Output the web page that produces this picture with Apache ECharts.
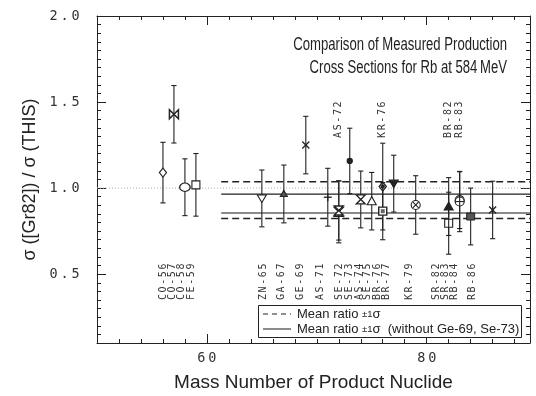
<!DOCTYPE html>
<html>
<head>
<meta charset="utf-8">
<script src="https://cdn.jsdelivr.net/npm/echarts@6/dist/echarts.min.js"></script>
<style>
  html, body { margin: 0; padding: 0; background: #fff; }
  #chart { width: 536px; height: 396px; }
</style>
</head>
<body>
<div id="chart"></div>
<script>
// Product nuclides, their mass numbers and the ratio sigma[Gr82] / sigma[this work] with 1-sigma errors
const nuclides    = ['CO-56','CO-57','CO-58','FE-59','ZN-65','GA-67','GE-69','AS-71','AS-72','SE-72','SE-73','AS-74','SE-75','KR-76','BR-76','BR-77','KR-79','SR-82','BR-82','RB-83','SR-83','RB-84','RB-86'];
const massNumbers = [56, 57, 58, 59, 65, 67, 69, 71, 72, 72, 73, 74, 75, 76, 76, 77, 79, 82, 82, 83, 83, 84, 86];
const ratios      = [1.090, 1.429, 1.005, 1.019, 0.940, 0.966, 1.250, 0.947, 0.862, 0.870, 1.158, 0.934, 0.924, 1.009, 0.866, 1.026, 0.902, 0.796, 0.893, 0.930, 0.922, 0.835, 0.873];
const errors      = [0.176, 0.167, 0.165, 0.182, 0.165, 0.168, 0.167, 0.168, 0.180, 0.172, 0.190, 0.165, 0.167, 0.252, 0.166, 0.165, 0.170, 0.180, 0.168, 0.165, 0.175, 0.165, 0.167];

// Nuclides whose name is written above the data instead of in the bottom row
const upperLabelled = ['AS-72', 'KR-76', 'BR-82', 'RB-83'];

// Mean ratio and spread: all nuclides, and without Ge-69 and Se-73
const meanAll = 0.930, sigmaAll = 0.107;
const meanSub = 0.910, sigmaSub = 0.055;

// Axis ranges and labelled ticks
const xRange = [50, 89.4];
const yRange = [0.1, 2.0];
const xTickLabels = [60, 80];
const yTickLabels = [0.5, 1.0, 1.5, 2.0];

// ---- layout / styling ----
const ink = '#222';
const meanLineStart = 61.3;       // mass number where the mean bands begin
const upperLabelRow = 1.287;      // ratio level of the label row above the data
const lowerLabelRow = 0.566;      // ratio level of the label row below the data

// Where each bottom-row name sits along the mass axis (names are packed tighter than the points)
const labelSlot = {
  'CO-56': 56.0, 'CO-57': 56.85, 'CO-58': 57.7, 'FE-59': 58.55,
  'ZN-65': 65.15, 'GA-67': 66.8, 'GE-69': 68.55, 'AS-71': 70.35,
  'SE-72': 72.1, 'SE-73': 73.0, 'AS-74': 73.85, 'SE-75': 74.65, 'BR-76': 75.5, 'BR-77': 76.35,
  'KR-79': 78.45, 'SR-82': 80.9, 'SR-83': 81.7, 'RB-84': 82.55, 'RB-86': 84.2
};

// Plot symbol of each nuclide
const markerOf = {
  'CO-56': 'diamond', 'CO-57': 'bowtie', 'CO-58': 'circle', 'FE-59': 'square',
  'ZN-65': 'triDown', 'GA-67': 'triUpSmall', 'GE-69': 'cross', 'AS-71': 'plus',
  'AS-72': 'hourglass', 'SE-72': 'hourglass', 'SE-73': 'dot', 'AS-74': 'hourglass',
  'SE-75': 'triUp', 'KR-76': 'diamondDot', 'BR-76': 'squareDot', 'BR-77': 'triDownFilled',
  'KR-79': 'circleCross', 'SR-82': 'square', 'BR-82': 'triUpFilled', 'RB-83': 'circlePlus',
  'SR-83': 'circlePlus', 'RB-84': 'squareFilled', 'RB-86': 'asterisk'
};

function seg(x1, y1, x2, y2, w) {
  return { type: 'line', shape: { x1, y1, x2, y2 }, style: { stroke: ink, lineWidth: w || 1.1 } };
}
function poly(points, fill, w) {
  return { type: 'polygon', shape: { points }, style: { fill: fill || '#fff', stroke: ink, lineWidth: w || 1.1 } };
}
function ring(cx, cy, r, fill) {
  return { type: 'circle', shape: { cx, cy, r }, style: { fill: fill || '#fff', stroke: ink, lineWidth: 1.1 } };
}

function markerElements(kind, x, y) {
  const R = 4.5;
  switch (kind) {
    case 'diamond':
      return [poly([[x, y - R], [x + R * 0.8, y], [x, y + R], [x - R * 0.8, y]])];
    case 'diamondDot':
      return [poly([[x, y - R], [x + R * 0.8, y], [x, y + R], [x - R * 0.8, y]], '#fff', 1.3), ring(x, y, 1.6, ink)];
    case 'bowtie':
      return [poly([[x - R, y - R], [x, y], [x - R, y + R]], '#fff', 1.5),
              poly([[x + R, y - R], [x, y], [x + R, y + R]], '#fff', 1.5)];
    case 'hourglass':
      return [poly([[x - R, y - R], [x + R, y - R], [x, y]], '#fff', 1.3),
              poly([[x - R, y + R], [x + R, y + R], [x, y]], '#fff', 1.3)];
    case 'circle':
      return [{ type: 'circle', shape: { cx: x, cy: y, r: 4.2 }, scaleX: 1.25, originX: x, originY: y,
                style: { fill: '#fff', stroke: ink, lineWidth: 1.1 } }];
    case 'circleCross':
      return [ring(x, y, R), seg(x - 3, y - 3, x + 3, y + 3), seg(x - 3, y + 3, x + 3, y - 3)];
    case 'circlePlus':
      return [ring(x, y, R), seg(x - R, y, x + R, y), seg(x, y - R, x, y + R)];
    case 'dot':
      return [ring(x, y, 2.6, ink)];
    case 'square':
      return [{ type: 'rect', shape: { x: x - 4, y: y - 4, width: 8, height: 8 }, style: { fill: '#fff', stroke: ink, lineWidth: 1.1 } }];
    case 'squareDot':
      return [{ type: 'rect', shape: { x: x - 4, y: y - 4, width: 8, height: 8 }, style: { fill: '#fff', stroke: ink, lineWidth: 1.4 } },
              { type: 'rect', shape: { x: x - 2, y: y - 2, width: 4, height: 4 }, style: { fill: '#666' } }];
    case 'squareFilled':
      return [{ type: 'rect', shape: { x: x - 4, y: y - 3.5, width: 8, height: 7 }, style: { fill: '#555', stroke: ink, lineWidth: 1 } }];
    case 'triDown':
      return [poly([[x - R, y - 3.5], [x + R, y - 3.5], [x, y + 4]])];
    case 'triDownFilled':
      return [poly([[x - R, y - 3.5], [x + R, y - 3.5], [x, y + 4]], ink)];
    case 'triUp':
      return [poly([[x - R, y + 3.5], [x + R, y + 3.5], [x, y - 4.5]])];
    case 'triUpSmall':
      return [poly([[x - 3.5, y + 2.5], [x + 3.5, y + 2.5], [x, y - 3.5]], '#555')];
    case 'triUpFilled':
      return [poly([[x - R, y + 3.5], [x + R, y + 3.5], [x, y - 4.5]], ink)];
    case 'cross':
      return [seg(x - 3.5, y - 3.5, x + 3.5, y + 3.5, 1.3), seg(x - 3.5, y + 3.5, x + 3.5, y - 3.5, 1.3)];
    case 'plus':
      return [seg(x - 4, y, x + 4, y, 1.3), seg(x, y - 4, x, y + 4, 1.3)];
    case 'asterisk':
      return [seg(x - 3.5, y - 3.5, x + 3.5, y + 3.5, 1.3), seg(x - 3.5, y + 3.5, x + 3.5, y - 3.5, 1.3), seg(x, y - 4, x, y + 4, 1.3)];
  }
  return [];
}

// Data points with error bars
function renderPoint(params, api) {
  const i = api.value(3);
  const m = api.value(0), r = api.value(1), e = api.value(2);
  const p = api.coord([m, r]);
  const hi = api.coord([m, r + e]);
  const lo = api.coord([m, r - e]);
  const cap = 2.6;
  const children = [
    seg(p[0], hi[1], p[0], lo[1], 1.1),
    seg(p[0] - cap, hi[1], p[0] + cap, hi[1], 1.1),
    seg(p[0] - cap, lo[1], p[0] + cap, lo[1], 1.1)
  ].concat(markerElements(markerOf[nuclides[i]], p[0], p[1]));
  return { type: 'group', children };
}

// Letter-spaced text built from fixed-width rich-text cells
function spaced(s) {
  return s.split('').map(c => '{c|' + c + '}').join('');
}
const nameRich = { c: { width: 7.6, align: 'center', fontFamily: 'DejaVu Sans Mono', fontSize: 10, fill: '#333', color: '#333' } };
const tickRich = { c: { width: 11, align: 'center', fontFamily: 'DejaVu Sans Mono', fontSize: 13.5, color: '#333' } };

// Nuclide names, written vertically
function renderName(params, api) {
  const i = api.value(0);
  const name = nuclides[i];
  const upper = upperLabelled.indexOf(name) >= 0;
  const pos = upper ? api.coord([massNumbers[i], upperLabelRow])
                    : api.coord([labelSlot[name], lowerLabelRow]);
  return {
    type: 'text',
    x: pos[0], y: pos[1],
    rotation: Math.PI / 2,
    style: {
      text: spaced(name),
      rich: nameRich,
      fill: '#333',
      align: upper ? 'left' : 'right',
      verticalAlign: 'middle'
    }
  };
}

function frameAxis(extra) {
  return Object.assign({
    type: 'value',
    axisLine: { show: true, onZero: false, lineStyle: { color: ink, width: 1 } },
    axisTick: { show: true, inside: true, length: 4, lineStyle: { color: ink, width: 1 } },
    axisLabel: { show: false },
    splitLine: { show: false }
  }, extra);
}
function majorAxis(extra, ticks) {
  return Object.assign({
    type: 'value',
    axisLine: { show: false, onZero: false },
    axisTick: { show: true, inside: true, length: 9, customValues: ticks, lineStyle: { color: ink, width: 1 } },
    axisLabel: { show: false },
    splitLine: { show: false }
  }, extra);
}

const xb = { min: xRange[0], max: xRange[1] };
const yb = { min: yRange[0], max: yRange[1] };

const chart = echarts.init(document.getElementById('chart'), null, { renderer: 'canvas' });

function meanLine(level, lineStyle) {
  return {
    type: 'line', xAxisIndex: 0, yAxisIndex: 0, silent: true, symbol: 'none', z: 1,
    data: [[meanLineStart, level], [xRange[1], level]],
    lineStyle
  };
}

const legendRich = {
  n: { fontFamily: 'Liberation Sans', fontSize: 13, fill: '#222' },
  s: { fontFamily: 'Liberation Sans', fontSize: 9.5, fill: '#222' }
};
// Narrow title lettering: regular sans squeezed horizontally about the right edge
const titleFont = { fontFamily: 'Liberation Sans', fontSize: 17.5, fill: '#222' };

chart.setOption({
  animation: false,
  backgroundColor: '#fff',
  grid: { left: 97, right: 6, top: 16, bottom: 53, outerBoundsMode: 'none' },
  xAxis: [
    frameAxis(Object.assign({ position: 'bottom', interval: 2 }, xb)),
    majorAxis(Object.assign({
      position: 'bottom',
      axisLabel: {
        show: true, customValues: xTickLabels, margin: 8,
        formatter: v => spaced(String(v)), rich: tickRich
      },
      name: 'Mass Number of Product Nuclide',
      nameLocation: 'middle', nameGap: 30,
      nameTextStyle: { fontFamily: 'Liberation Sans', fontSize: 19, color: '#222' }
    }, xb), xTickLabels),
    frameAxis(Object.assign({ position: 'top', interval: 2 }, xb)),
    majorAxis(Object.assign({ position: 'top' }, xb), xTickLabels)
  ],
  yAxis: [
    frameAxis(Object.assign({ position: 'left', interval: 0.05 }, yb)),
    majorAxis(Object.assign({
      position: 'left',
      axisLabel: {
        show: true, customValues: yTickLabels, margin: 16,
        formatter: v => spaced(v.toFixed(1)), rich: tickRich
      },
      name: 'σ ([Gr82]) / σ (THIS)',
      nameLocation: 'middle', nameGap: 58, nameRotate: 90,
      nameTextStyle: { fontFamily: 'Liberation Sans', fontSize: 18, color: '#222' }
    }, yb), yTickLabels),
    frameAxis(Object.assign({ position: 'right', interval: 0.05 }, yb)),
    majorAxis(Object.assign({ position: 'right' }, yb), yTickLabels)
  ],
  series: [
    {
      type: 'line', xAxisIndex: 0, yAxisIndex: 0, silent: true, symbol: 'none', z: 0,
      data: [[xRange[0], 1.0], [xRange[1], 1.0]],
      lineStyle: { color: '#b0b0b0', width: 1, type: [1, 2] }
    },
    meanLine(meanAll + sigmaAll, { color: ink, width: 1.6, type: [7, 4] }),
    meanLine(meanAll - sigmaAll, { color: ink, width: 1.6, type: [7, 4] }),
    meanLine(meanSub + sigmaSub, { color: ink, width: 1.2, type: 'solid' }),
    meanLine(meanSub - sigmaSub, { color: '#8a8a8a', width: 2, type: 'solid' }),
    {
      type: 'custom', xAxisIndex: 0, yAxisIndex: 0, z: 3, clip: false,
      renderItem: renderPoint,
      data: massNumbers.map((m, i) => [m, ratios[i], errors[i], i])
    },
    {
      type: 'custom', xAxisIndex: 0, yAxisIndex: 0, z: 3, clip: false,
      renderItem: renderName,
      data: nuclides.map((n, i) => [i])
    }
  ],
  graphic: [
    { type: 'text', x: 507, y: 45, scaleX: 0.75,
      style: Object.assign({ text: 'Comparison of Measured Production', align: 'right', verticalAlign: 'middle' }, titleFont) },
    { type: 'text', x: 507, y: 68, scaleX: 0.75,
      style: Object.assign({ text: 'Cross Sections for Rb at 584\u2009MeV', align: 'right', verticalAlign: 'middle' }, titleFont) },
    // legend box
    { type: 'rect', shape: { x: 258.5, y: 305.5, width: 263, height: 32 }, style: { fill: '#fff', stroke: ink, lineWidth: 1 }, z: 10 },
    { type: 'line', shape: { x1: 263, y1: 314, x2: 291, y2: 314 }, style: { stroke: ink, lineWidth: 1.2, lineDash: [5, 4] }, z: 11 },
    { type: 'line', shape: { x1: 263, y1: 329, x2: 291, y2: 329 }, style: { stroke: '#666', lineWidth: 1.5 }, z: 11 },
    { type: 'text', x: 297, y: 314, z: 11, style: {
      text: '{n|Mean ratio }{s|±1}{n|σ}', verticalAlign: 'middle', rich: legendRich } },
    { type: 'text', x: 297, y: 329, z: 11, style: {
      text: '{n|Mean ratio }{s|±1}{n|σ  (without Ge-69, Se-73)}', verticalAlign: 'middle', rich: legendRich } }
  ]
});
</script>
</body>
</html>
